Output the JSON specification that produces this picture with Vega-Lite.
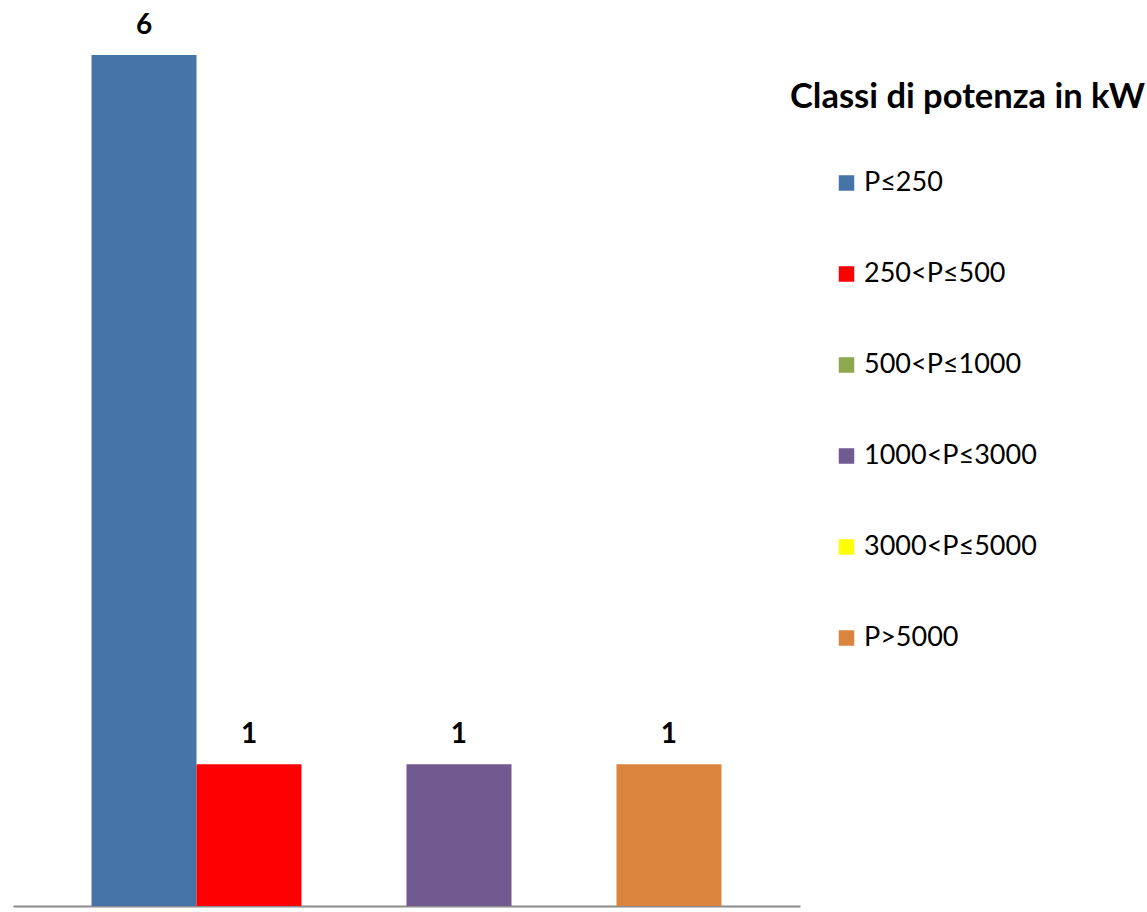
{
  "$schema": "https://vega.github.io/schema/vega-lite/v6.json",
  "autosize": {"type": "none"},
  "width": 787,
  "height": 851,
  "padding": {"left": 13, "top": 55, "right": 347, "bottom": 6},
  "background": "white",
  "config": {
    "view": {"stroke": null},
    "font": "Lato"
  },
  "data": {
    "values": [
      {"classe": "P≤250", "n": 6},
      {"classe": "250<P≤500", "n": 1},
      {"classe": "500<P≤1000", "n": 0},
      {"classe": "1000<P≤3000", "n": 1},
      {"classe": "3000<P≤5000", "n": 0},
      {"classe": "P>5000", "n": 1}
    ]
  },
  "encoding": {
    "x": {
      "field": "classe",
      "type": "nominal",
      "sort": null,
      "scale": {"paddingInner": 0, "paddingOuter": 0.748},
      "axis": {
        "title": null,
        "labels": false,
        "ticks": false,
        "domainColor": "#8c8c8c",
        "domainWidth": 2
      }
    },
    "y": {
      "field": "n",
      "type": "quantitative",
      "scale": {"domain": [0, 6], "nice": false},
      "axis": null
    }
  },
  "layer": [
    {
      "mark": {"type": "bar"},
      "encoding": {
        "color": {
          "field": "classe",
          "type": "nominal",
          "sort": null,
          "scale": {
            "domain": ["P≤250", "250<P≤500", "500<P≤1000", "1000<P≤3000", "3000<P≤5000", "P>5000"],
            "range": ["#4674A8", "#FF0000", "#8EA84F", "#72598F", "#FFFF00", "#DB843D"]
          },
          "legend": {
            "title": "Classi di potenza in kW",
            "orient": "none",
            "legendX": 777,
            "legendY": 26,
            "titleFontSize": 34.5,
            "titleFontWeight": "bold",
            "titleColor": "black",
            "titleLimit": 500,
            "titlePadding": 54,
            "symbolType": "square",
            "symbolSize": 240,
            "symbolStrokeWidth": 0,
            "symbolOffset": 43,
            "labelFontSize": 27,
            "labelColor": "black",
            "labelOffset": 4,
            "labelLimit": 400,
            "labelFont": "Lato",
            "rowPadding": 63,
            "padding": 0
          }
        }
      }
    },
    {
      "transform": [{"filter": "datum.n > 0"}],
      "mark": {"type": "text", "fontSize": 28, "fontWeight": "bold", "baseline": "alphabetic", "dy": -21, "color": "black"},
      "encoding": {
        "text": {"field": "n", "type": "quantitative"}
      }
    }
  ]
}
